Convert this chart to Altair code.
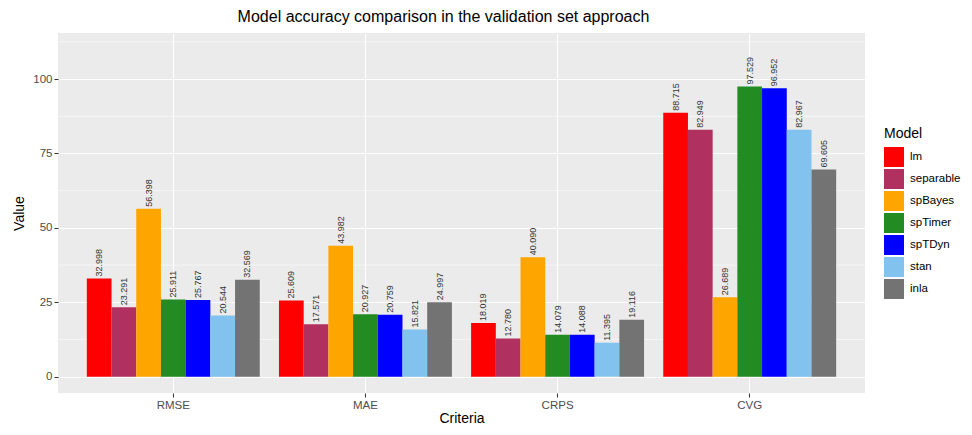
import altair as alt
import pandas as pd

criteria = ["RMSE", "MAE", "CRPS", "CVG"]
models = ["lm", "separable", "spBayes", "spTimer", "spTDyn", "stan", "inla"]
colors = ["#FF0000", "#B03060", "#FFA500", "#228B22", "#0000FF", "#82C2EE", "#737373"]

lm = [32.998, 25.609, 18.019, 88.715]
separable = [23.291, 17.571, 12.780, 82.949]
spBayes = [56.398, 43.982, 40.090, 26.689]
spTimer = [25.911, 20.927, 14.079, 97.529]
spTDyn = [25.767, 20.759, 14.088, 96.952]
stan = [20.544, 15.821, 11.395, 82.967]
inla = [32.569, 24.997, 19.116, 69.605]

y_ticks = [0, 25, 50, 75, 100]
y_minor = [12.5, 37.5, 62.5, 87.5, 112.5]

series = {"lm": lm, "separable": separable, "spBayes": spBayes, "spTimer": spTimer,
          "spTDyn": spTDyn, "stan": stan, "inla": inla}
rows = []
for m in models:
    for c, v in zip(criteria, series[m]):
        rows.append({"Criteria": c, "Model": m, "Value": v})
df = pd.DataFrame(rows)
minor_df = pd.DataFrame({"Value": y_minor})

FONT = "Liberation Sans"

x_enc = alt.X("Criteria:N", sort=criteria,
              scale=alt.Scale(paddingInner=0.1, paddingOuter=0.15),
              axis=alt.Axis(title="Criteria", labelAngle=0, grid=True, gridColor="white",
                            gridWidth=1.1, bandPosition=0.5, tickSize=4, labelPadding=2,
                            titlePadding=1, labelFontSize=11.5, titleFontSize=14))
xo_enc = alt.XOffset("Model:N", sort=models, scale=alt.Scale(paddingInner=0, paddingOuter=0))
y_scale = alt.Scale(domain=[-5.5, 115.5], nice=False, zero=False)
y_enc = alt.Y("Value:Q", scale=y_scale, title="Value",
              axis=alt.Axis(values=y_ticks, grid=True, gridColor="white", gridWidth=1.1,
                            tickSize=4, labelPadding=2, titlePadding=6,
                            labelFontSize=11.5, titleFontSize=14))

minor = alt.Chart(minor_df).mark_rule(color="white", strokeWidth=0.55).encode(
    y=alt.Y("Value:Q", scale=y_scale, title="Value")
)

bars = alt.Chart(df).mark_bar().encode(
    x=x_enc,
    xOffset=xo_enc,
    y=y_enc,
    y2=alt.datum(0),
    color=alt.Color("Model:N", sort=models,
                    scale=alt.Scale(domain=models, range=colors),
                    legend=alt.Legend(title="Model", orient="none", legendX=826, legendY=94,
                                      symbolType="square", symbolSize=400,
                                      symbolStrokeWidth=0, labelFontSize=11.5,
                                      titleFontSize=14, titleFontWeight="normal",
                                      labelOffset=6, rowPadding=2, titlePadding=6,
                                      padding=0, labelColor="#000000",
                                      titleColor="#000000")),
)

labels = alt.Chart(df).mark_text(angle=270, align="left", baseline="middle", dx=2,
                                 fontSize=9, color="#333333", font=FONT).encode(
    x=x_enc,
    xOffset=xo_enc,
    y=y_enc,
    text=alt.Text("Value:Q", format=".3f"),
)

chart = alt.layer(minor, bars, labels).properties(
    width=807, height=360,
    title=alt.TitleParams("Model accuracy comparison in the validation set approach",
                          fontSize=16, fontWeight="normal", font=FONT, color="#000000",
                          anchor="middle", frame="group", dx=-18, offset=8),
    autosize=alt.AutoSizeParams(type="none"),
    padding={"left": 50, "top": 25, "right": 99, "bottom": 34},
    background="white",
).configure_view(fill="#EBEBEB", stroke=None).configure_axis(
    domain=False, tickColor="#333333", labelColor="#4D4D4D", labelFont=FONT,
    titleFont=FONT, titleColor="#000000", titleFontWeight="normal"
).configure_legend(labelFont=FONT, titleFont=FONT)

chart.save("out.html", embed_options={"renderer": "svg", "actions": False})
